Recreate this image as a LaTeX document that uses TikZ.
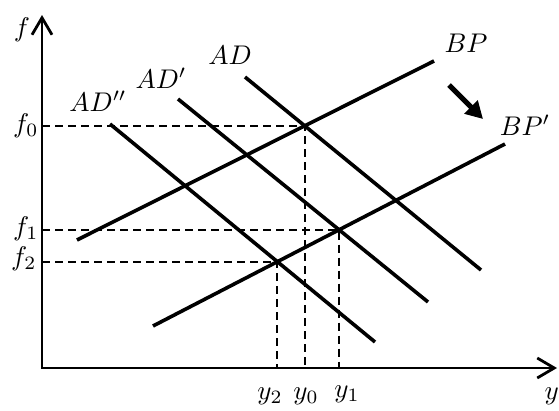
\documentclass[tikz,border=0pt]{standalone}
\usetikzlibrary{arrows.meta,intersections}
\begin{document}
\begin{tikzpicture}[x=1pt,y=-1pt,
  curve/.style={line width=3.6pt},
  axis/.style={line width=2.8pt},
  guide/.style={line width=1.8pt, dash pattern=on 8pt off 5pt},
  lbl/.style={inner sep=0pt, scale=2.7},
  shiftarrow/.style={line width=5pt, -{Triangle[length=17pt,width=18pt]}}]
\useasboundingbox (0,0) rectangle (559,410);
% axes
\coordinate (O) at (42,368);
\coordinate (ytop) at (42,15);
\coordinate (xend) at (557,368);
\draw[axis, {Straight Barb[length=17pt,width=20pt]}-{Straight Barb[length=17pt,width=20pt]}] (ytop) -- (O) -- (xend);
% curve end points
\coordinate (bp1) at (77,240);   \coordinate (bp2) at (434,61);
\coordinate (bq1) at (153,326);  \coordinate (bq2) at (505,144);
\coordinate (ad1) at (245,77);   \coordinate (ad2) at (481,270);
\coordinate (ae1) at (178,99);   \coordinate (ae2) at (428,302);
\coordinate (af1) at (110,124);  \coordinate (af2) at (375,342);
% curves
\draw[curve, name path=BP]  (bp1) -- (bp2);
\draw[curve, name path=BPp] (bq1) -- (bq2);
\draw[curve, name path=AD]  (ad1) -- (ad2);
\draw[curve, name path=ADp] (ae1) -- (ae2);
\draw[curve, name path=ADpp] (af1) -- (af2);
% equilibria
\path[name intersections={of=BP and AD, by=E0}];
\path[name intersections={of=BPp and ADp, by=E1}];
\path[name intersections={of=BPp and ADpp, by=E2}];
\draw[guide] (O |- E0) -- (E0) -- (E0 |- O);
\draw[guide] (O |- E1) -- (E1) -- (E1 |- O);
\draw[guide] (O |- E2) -- (E2) -- (E2 |- O);
% shift arrow
\coordinate (sA) at (449,85);
\coordinate (sB) at (483,119);
\draw[shiftarrow] (sA) -- (sB);
% labels
\node[lbl] (lf) at (22,30) {$f$};
\node[lbl, anchor=east] (lf0) at (39,126) {$f_0$};
\node[lbl, anchor=east] (lf1) at (39,229) {$f_1$};
\node[lbl, anchor=east] (lf2) at (37,259) {$f_2$};
\node[lbl] (ly2) at (270,396) {$y_2$};
\node[lbl] (ly0) at (306,396) {$y_0$};
\node[lbl] (ly1) at (347,394) {$y_1$};
\node[lbl, anchor=west] (ly) at (544,396) {$y$};
\node[lbl] (lAD) at (230,55) {$AD$};
\node[lbl] (lADp) at (161,78) {$AD'$};
\node[lbl] (lADpp) at (98,101) {$AD''$};
\node[lbl] (lBP) at (466,43) {$BP$};
\node[lbl] (lBPp) at (525,125) {$BP'$};
\end{tikzpicture}
\end{document}
